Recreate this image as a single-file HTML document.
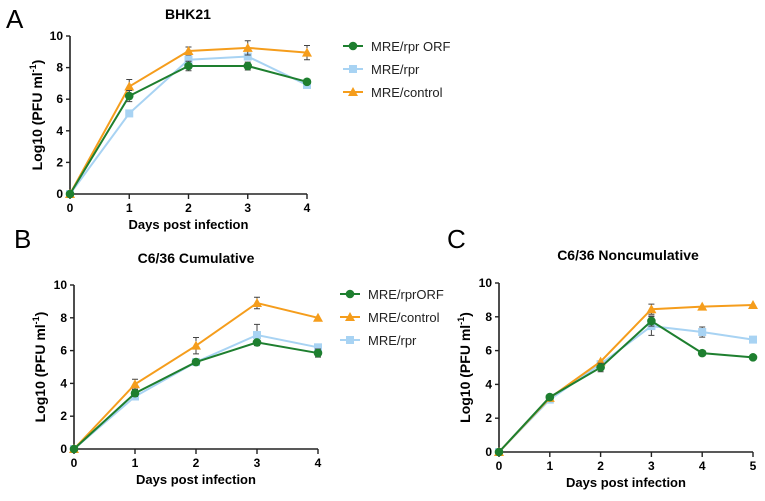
<!DOCTYPE html>
<html><head><meta charset="utf-8"><style>
body{margin:0;background:#fff}
svg{display:block;font-family:"Liberation Sans",sans-serif}
</style></head><body>
<svg id="fig" width="765" height="501" viewBox="0 0 765 501"></svg>
<script>
const daysA=[0,1,2,3,4];
const daysB=[0,1,2,3,4];
const daysC=[0,1,2,3,4,5];
const yTicks=[0,2,4,6,8,10];
const A_orf=[0,6.2,8.1,8.1,7.1], A_orf_err=[0,0.35,0.3,0.25,0.1];
const A_rpr=[0,5.1,8.5,8.7,6.9], A_rpr_err=[0,0.1,0.1,0.15,0.1];
const A_ctl=[0,6.8,9.05,9.25,8.95], A_ctl_err=[0,0.45,0.25,0.45,0.45];
const B_orf=[0,3.4,5.3,6.5,5.85], B_orf_err=[0,0.2,0.1,0.1,0.25];
const B_ctl=[0,3.95,6.3,8.9,8.0], B_ctl_err=[0,0.3,0.5,0.35,0];
const B_rpr=[0,3.2,5.3,6.95,6.2], B_rpr_err=[0,0.1,0.1,0.65,0.15];
const C_orf=[0,3.25,5.0,7.75,5.85,5.6], C_orf_err=[0,0.1,0.25,0.3,0.15,0.05];
const C_ctl=[0,3.2,5.35,8.45,8.6,8.7], C_ctl_err=[0,0,0,0.3,0,0];
const C_rpr=[0,3.1,5.2,7.45,7.1,6.65], C_rpr_err=[0,0,0,0.55,0.3,0.1];

const G='#1e7f2f',L='#a8d3f3',O='#f59d1c';
const svg=document.getElementById('fig');
const NS='http://www.w3.org/2000/svg';
function mk(t,a,txt,name){const e=document.createElementNS(NS,t);for(const k in a)e.setAttribute(k,a[k]);if(txt!==undefined)e.textContent=txt;


svg.appendChild(e);return e;}

function marker(shape,x,y,c,name){
 if(shape==='c')mk('circle',{cx:x,cy:y,r:4.3,fill:c},undefined,name);
 else if(shape==='s')mk('rect',{x:x-4,y:y-4,width:8,height:8,fill:c},undefined,name);
 else mk('polygon',{points:`${x},${y-5} ${x-5},${y+4} ${x+5},${y+4}`,fill:c},undefined,name);
}
function panel(p){
 const sx=v=>p.x0+(p.x1-p.x0)*v/p.xmax, sy=v=>p.y0-(p.y0-p.y10)*v/10;
 mk('text',{x:p.lx,y:p.ly,'font-size':26},p.letter,'panel-letter-'+p.letter);
 mk('text',{x:p.tx,y:p.ty,'font-size':14,'font-weight':'bold','text-anchor':'middle'},p.title,'chart-title-'+p.letter);
 mk('line',{x1:p.x0,y1:p.y10,x2:p.x0,y2:p.y0,stroke:'#222','stroke-width':1.6},undefined,'y-axis-'+p.letter);
 mk('line',{x1:p.x0,y1:p.y0,x2:p.x1,y2:p.y0,stroke:'#222','stroke-width':1.6},undefined,'x-axis-'+p.letter);
 yTicks.forEach(t=>{mk('line',{x1:p.x0-4,y1:sy(t),x2:p.x0,y2:sy(t),stroke:'#222','stroke-width':1.4},undefined,'y-tick');
  mk('text',{x:p.x0-7,y:sy(t)+4,'font-size':12,'font-weight':'bold','text-anchor':'end'},String(t),'y-tick-label');});
 p.days.forEach(d=>{mk('line',{x1:sx(d),y1:p.y0,x2:sx(d),y2:p.y0+5,stroke:'#222','stroke-width':1.4},undefined,'x-tick');
  mk('text',{x:sx(d),y:p.y0+18,'font-size':12,'font-weight':'bold','text-anchor':'middle'},String(d),'x-tick-label');});
 mk('text',{x:(p.x0+p.x1)/2,y:p.y0+35,'font-size':13,'font-weight':'bold','text-anchor':'middle'},'Days post infection','x-axis-title-'+p.letter);
 const yt=mk('text',{x:0,y:0,'font-size':14,'font-weight':'bold','text-anchor':'middle',transform:`translate(${p.ytx},${(p.y0+p.y10)/2}) rotate(-90)`},undefined,'y-axis-title-'+p.letter);
 yt.innerHTML='Log10 (PFU ml<tspan font-size="9" dy="-6">-1</tspan><tspan dy="6">)</tspan>';
 p.series.forEach(s=>{
  const pts=p.days.map((d,i)=>sx(d)+','+sy(s.v[i])).join(' ');
  mk('polyline',{points:pts,fill:'none',stroke:s.c,'stroke-width':2},undefined,'series-line-'+s.n);
  p.days.forEach((d,i)=>{const e=s.e[i];if(e>0){const x=sx(d);
   mk('path',{d:`M${x},${sy(s.v[i]-e)}V${sy(s.v[i]+e)}M${x-3},${sy(s.v[i]-e)}h6M${x-3},${sy(s.v[i]+e)}h6`,stroke:'#444','stroke-width':1,fill:'none'},undefined,'error-bar');}
   marker(s.m,sx(d),sy(s.v[i]),s.c,'point-'+s.n);});
 });
 p.legend.forEach((s,i)=>{const y=p.legY+i*p.legDy;
  mk('line',{x1:p.legX,y1:y,x2:p.legX+20,y2:y,stroke:s.c,'stroke-width':2},undefined,'legend-line');
  marker(s.m,p.legX+10,y,s.c,'legend-marker');
  mk('text',{x:p.legX+28,y:y+5,'font-size':13,fill:'#222'},s.label,'legend-entry');});
}
panel({letter:'A',lx:6,ly:28,tx:188,ty:19,title:'BHK21',x0:70,x1:307,xmax:4,y0:194,y10:36,ytx:42,days:daysA,
 series:[{n:'rpr',v:A_rpr,e:A_rpr_err,c:L,m:'s'},{n:'control',v:A_ctl,e:A_ctl_err,c:O,m:'t'},{n:'orf',v:A_orf,e:A_orf_err,c:G,m:'c'}],
 legX:343,legY:46,legDy:23,legend:[{label:'MRE/rpr ORF',c:G,m:'c'},{label:'MRE/rpr',c:L,m:'s'},{label:'MRE/control',c:O,m:'t'}]});
panel({letter:'B',lx:14,ly:248,tx:196,ty:263,title:'C6/36 Cumulative',x0:74,x1:318,xmax:4,y0:449,y10:285,ytx:45,days:daysB,
 series:[{n:'rpr',v:B_rpr,e:B_rpr_err,c:L,m:'s'},{n:'control',v:B_ctl,e:B_ctl_err,c:O,m:'t'},{n:'orf',v:B_orf,e:B_orf_err,c:G,m:'c'}],
 legX:340,legY:294,legDy:23,legend:[{label:'MRE/rprORF',c:G,m:'c'},{label:'MRE/control',c:O,m:'t'},{label:'MRE/rpr',c:L,m:'s'}]});
panel({letter:'C',lx:447,ly:248,tx:628,ty:260,title:'C6/36 Noncumulative',x0:499,x1:753,xmax:5,y0:452,y10:283,ytx:470,days:daysC,
 series:[{n:'rpr',v:C_rpr,e:C_rpr_err,c:L,m:'s'},{n:'control',v:C_ctl,e:C_ctl_err,c:O,m:'t'},{n:'orf',v:C_orf,e:C_orf_err,c:G,m:'c'}],
 legX:-999,legY:0,legDy:0,legend:[]});
</script>
</body></html>
